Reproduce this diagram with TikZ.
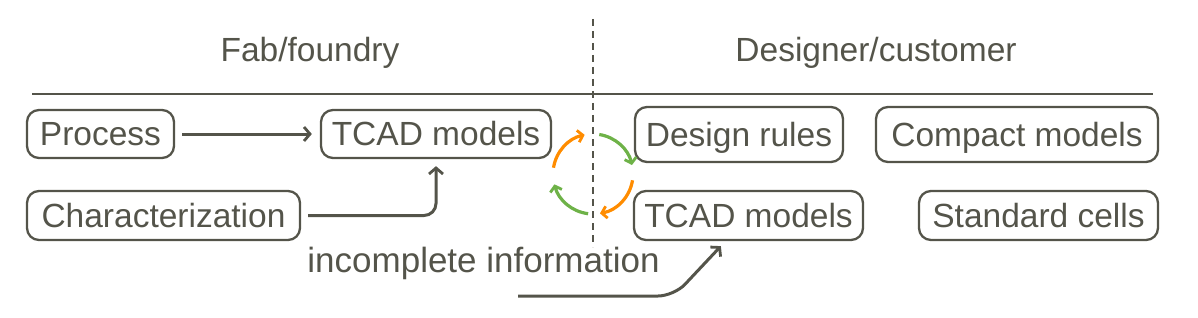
\documentclass[tikz,border=0pt]{standalone}
\usepackage{fontspec}
\setmainfont{Liberation Sans}
\usetikzlibrary{arrows.meta}
\definecolor{ink}{RGB}{84,84,74}
\definecolor{cycorange}{RGB}{255,140,0}
\definecolor{cycgreen}{RGB}{110,178,72}
\begin{document}
\begin{tikzpicture}[x=1pt,y=-1pt,
  every node/.style={font=\fontsize{33.5}{40}\selectfont, text=ink},
  box/.style={draw=ink, line width=2.3pt, rounded corners=12pt, inner sep=0pt,
    text height=24pt, text depth=0pt, align=center},
  conn/.style={draw=ink, line width=3pt, -{Straight Barb[length=6pt,width=14pt,line width=2.8pt]}},
  cyc/.style={line width=3.2pt, -{Straight Barb[length=5pt,width=12pt,line width=2.8pt]}},
  title/.style={anchor=base}
]
\useasboundingbox (0,0) rectangle (1198,318);

% titles
\node[title] (fab) at (310,62) {Fab/foundry};
\node[title] (des) at (876,62) {Designer/customer};

% rules
\coordinate (hl) at (32,94);
\coordinate (hr) at (1153,94);
\draw[ink, line width=2.8pt] (hl) -- (hr);
\coordinate (dtop) at (593,19);
\coordinate (dbot) at (593,247);
\draw[ink, line width=2.2pt, dash pattern=on 7pt off 5pt] (dtop) -- (dbot);

% left boxes
\node[box, minimum width=147pt, minimum height=48pt] (proc) at (100.5,134) {Process};
\node[box, minimum width=230pt, minimum height=48pt] (tcadl) at (436,134) {TCAD models};
\node[box, minimum width=273pt, minimum height=49pt] (char) at (163.5,215.5) {Characterization};

% right boxes
\node[box, minimum width=208pt, minimum height=55pt] (rules) at (739,134.5) {Design rules};
\node[box, minimum width=282pt, minimum height=55pt] (compact) at (1017,134.5) {Compact models};
\node[box, minimum width=229pt, minimum height=49pt] (tcadr) at (748.5,215.5) {TCAD models};
\node[box, minimum width=239pt, minimum height=49pt] (cells) at (1038.5,215.5) {Standard cells};

% connectors
\draw[conn, shorten <=7pt, shorten >=8pt] (proc.east) -- (tcadl.west);
\draw[conn, rounded corners=12pt, shorten <=7pt, shorten >=7pt] (char.east) -| (tcadl.south);

\node[anchor=base, font=\fontsize{35}{42}\selectfont] (info) at (483.5,272) {incomplete information};
\coordinate (istart) at (518,296);
\coordinate (ibend) at (674,296);
\draw[conn, rounded corners=16pt] (istart) -- (ibend) -- ([xshift=88pt,yshift=-5pt]tcadr.south west);

% cycle
\coordinate (cc) at (593,174);
\draw[cyc, cycorange] ([shift={(171:40pt)}]cc) arc[start angle=171, end angle=102, radius=40pt];
\draw[cyc, cycgreen]  ([shift={(81:40pt)}]cc)  arc[start angle=81,  end angle=13,  radius=40pt];
\draw[cyc, cycorange] ([shift={(-9:40pt)}]cc)  arc[start angle=-9,  end angle=-80, radius=40pt];
\draw[cyc, cycgreen]  ([shift={(-97:40pt)}]cc) arc[start angle=-97, end angle=-165, radius=40pt];
\end{tikzpicture}
\end{document}
